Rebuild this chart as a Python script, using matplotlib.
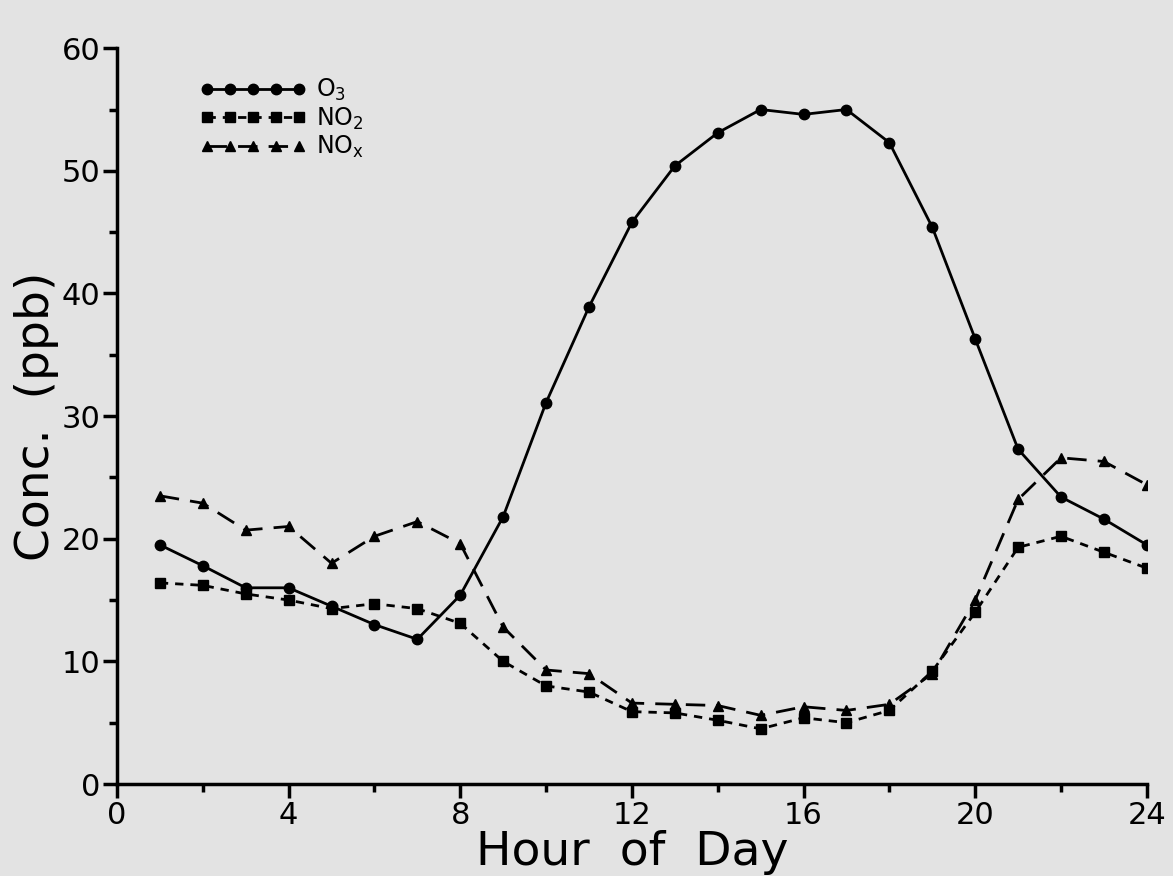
import matplotlib.pyplot as plt
from matplotlib.lines import Line2D

# Data
hours = list(range(1, 25))
o3 = [19.5, 17.8, 16.0, 16.0, 14.5, 13.0, 11.8, 15.4, 21.8, 31.1, 38.9, 45.8,
      50.4, 53.1, 55.0, 54.6, 55.0, 52.3, 45.4, 36.3, 27.3, 23.4, 21.6, 19.5]
no2 = [16.4, 16.2, 15.5, 15.0, 14.3, 14.7, 14.3, 13.1, 10.0, 8.0, 7.5, 5.9,
       5.8, 5.2, 4.5, 5.4, 5.0, 6.0, 9.2, 14.0, 19.3, 20.2, 18.9, 17.6]
nox = [23.5, 22.9, 20.7, 21.0, 18.0, 20.2, 21.4, 19.6, 12.8, 9.3, 9.0, 6.6,
       6.5, 6.4, 5.6, 6.3, 6.0, 6.5, 9.0, 15.0, 23.2, 26.6, 26.3, 24.4]

bg = '#e3e3e3'
fig = plt.figure(figsize=(11.73, 8.76), dpi=100, facecolor=bg)
ax = fig.add_axes([0.0997, 0.105, 0.878, 0.840], facecolor=bg)

ax.plot(hours, o3, 'k-', lw=2, marker='o', ms=7.5)
ax.plot(hours, no2, 'k', ls=(0, (3, 2.5)), lw=2, marker='s', ms=6.5)
ax.plot(hours, nox, 'k', ls=(0, (7, 4)), lw=2, marker='^', ms=7.5)

ax.set_xlim(0, 24)
ax.set_ylim(0, 60)
ax.set_xticks(range(0, 25, 4))
ax.set_xticks(range(0, 25, 2), minor=True)
ax.set_yticks(range(0, 61, 10))
ax.set_yticks(range(5, 60, 10), minor=True)
for s in ['top', 'right']:
    ax.spines[s].set_visible(False)
for s in ['left', 'bottom']:
    ax.spines[s].set_linewidth(2.5)
ax.tick_params(which='major', length=10, width=2.5, labelsize=22, pad=2)
ax.tick_params(which='minor', length=6, width=2.5)

ax.set_xlabel('Hour  of  Day', fontsize=34, labelpad=0)
ax.set_ylabel('Conc.  (ppb)', fontsize=34, labelpad=2)

handles = [Line2D([], [], color='k', ls='-', lw=2, marker='o', ms=7.5),
           Line2D([], [], color='k', ls=(0, (3, 2.5)), lw=2, marker='s', ms=6.5),
           Line2D([], [], color='k', ls=(0, (7, 4)), lw=2, marker='^', ms=7.5)]
ax.legend(handles, ['O$_3$', 'NO$_2$', 'NO$_\\mathrm{x}$'], loc='upper left',
          bbox_to_anchor=(0.06, 0.99), frameon=False, fontsize=17,
          handlelength=4.5, numpoints=5, handletextpad=0.4,
          labelspacing=0.1)

fig.savefig('out.png', dpi=100, facecolor=bg)
